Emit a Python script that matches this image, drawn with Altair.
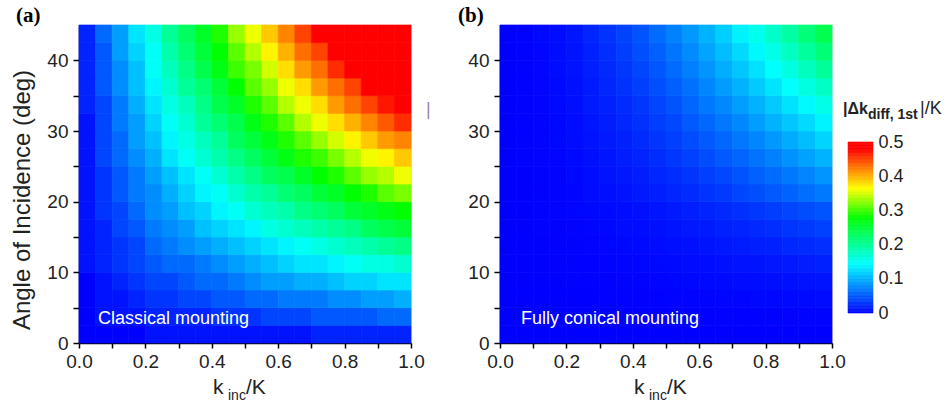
import altair as alt
import pandas as pd

# ---------------- data ----------------
K_INC = [0.025, 0.075, 0.125, 0.175, 0.225, 0.275, 0.325, 0.375, 0.425, 0.475,
         0.525, 0.575, 0.625, 0.675, 0.725, 0.775, 0.825, 0.875, 0.925, 0.975]
ANGLE = [1.25, 3.75, 6.25, 8.75, 11.25, 13.75, 16.25, 18.75, 21.25,
         23.75, 26.25, 28.75, 31.25, 33.75, 36.25, 38.75, 41.25, 43.75]

# |dk_diff,1st|/K, classical mounting (rows = angles bottom->top, cols = k_inc/K)
CLASSICAL = [
    [0.00,0.00,0.00,0.00,0.01,0.01,0.01,0.01,0.01,0.01,0.01,0.01,0.01,0.01,0.02,0.02,0.02,0.02,0.02,0.02],
    [0.00,0.01,0.01,0.01,0.02,0.02,0.02,0.02,0.03,0.03,0.03,0.04,0.04,0.04,0.05,0.05,0.05,0.05,0.06,0.06],
    [0.00,0.01,0.01,0.02,0.03,0.03,0.04,0.04,0.05,0.05,0.06,0.06,0.07,0.07,0.07,0.08,0.08,0.09,0.09,0.10],
    [0.00,0.01,0.02,0.03,0.04,0.04,0.05,0.06,0.06,0.07,0.08,0.09,0.09,0.10,0.10,0.11,0.12,0.12,0.13,0.13],
    [0.01,0.02,0.03,0.04,0.05,0.06,0.06,0.07,0.08,0.09,0.10,0.11,0.12,0.13,0.13,0.14,0.15,0.16,0.16,0.17],
    [0.01,0.02,0.03,0.04,0.06,0.07,0.08,0.09,0.10,0.11,0.12,0.13,0.14,0.15,0.16,0.17,0.18,0.19,0.20,0.21],
    [0.01,0.02,0.04,0.05,0.07,0.08,0.09,0.11,0.12,0.13,0.14,0.16,0.17,0.18,0.19,0.20,0.21,0.23,0.24,0.25],
    [0.01,0.03,0.04,0.06,0.08,0.09,0.11,0.12,0.14,0.15,0.17,0.18,0.19,0.21,0.22,0.23,0.25,0.26,0.27,0.28],
    [0.01,0.03,0.05,0.07,0.08,0.10,0.12,0.14,0.15,0.17,0.19,0.20,0.22,0.23,0.25,0.26,0.28,0.29,0.31,0.32],
    [0.01,0.03,0.05,0.07,0.09,0.11,0.13,0.15,0.17,0.19,0.21,0.23,0.24,0.26,0.28,0.29,0.31,0.33,0.34,0.36],
    [0.01,0.04,0.06,0.08,0.10,0.13,0.15,0.17,0.19,0.21,0.23,0.25,0.27,0.29,0.30,0.32,0.34,0.36,0.37,0.39],
    [0.01,0.04,0.06,0.09,0.11,0.14,0.16,0.18,0.20,0.23,0.25,0.27,0.29,0.31,0.33,0.35,0.37,0.39,0.41,0.42],
    [0.01,0.04,0.07,0.09,0.12,0.15,0.17,0.20,0.22,0.24,0.27,0.29,0.31,0.34,0.36,0.38,0.40,0.42,0.44,0.46],
    [0.02,0.04,0.07,0.10,0.13,0.16,0.18,0.21,0.24,0.26,0.29,0.31,0.34,0.36,0.38,0.41,0.43,0.45,0.47,0.49],
    [0.02,0.05,0.08,0.11,0.14,0.17,0.20,0.22,0.25,0.28,0.31,0.33,0.36,0.38,0.41,0.43,0.45,0.48,0.50,0.52],
    [0.02,0.05,0.08,0.11,0.15,0.18,0.21,0.24,0.27,0.30,0.32,0.35,0.38,0.41,0.43,0.46,0.48,0.51,0.53,0.55],
    [0.02,0.05,0.09,0.12,0.15,0.19,0.22,0.25,0.28,0.31,0.34,0.37,0.40,0.43,0.45,0.48,0.51,0.53,0.56,0.58],
    [0.02,0.06,0.09,0.13,0.16,0.20,0.23,0.26,0.29,0.33,0.36,0.39,0.42,0.45,0.48,0.50,0.53,0.56,0.58,0.61],
]

# |dk_diff,1st|/K, fully conical mounting
CONICAL = [
    [0.000,0.000,0.000,0.000,0.000,0.000,0.000,0.000,0.000,0.000,0.000,0.000,0.000,0.000,0.000,0.000,0.000,0.000,0.000,0.000],
    [0.000,0.000,0.000,0.000,0.000,0.000,0.000,0.000,0.000,0.000,0.001,0.001,0.001,0.001,0.001,0.001,0.001,0.002,0.002,0.002],
    [0.000,0.000,0.000,0.000,0.000,0.000,0.001,0.001,0.001,0.001,0.002,0.002,0.002,0.003,0.003,0.004,0.004,0.005,0.005,0.006],
    [0.000,0.000,0.000,0.000,0.001,0.001,0.001,0.002,0.002,0.003,0.003,0.004,0.005,0.005,0.006,0.007,0.008,0.009,0.010,0.011],
    [0.000,0.000,0.000,0.001,0.001,0.001,0.002,0.003,0.003,0.004,0.005,0.006,0.007,0.009,0.010,0.011,0.013,0.015,0.016,0.018],
    [0.000,0.000,0.000,0.001,0.001,0.002,0.003,0.004,0.005,0.006,0.008,0.009,0.011,0.013,0.015,0.017,0.019,0.022,0.024,0.027],
    [0.000,0.000,0.001,0.001,0.002,0.003,0.004,0.006,0.007,0.009,0.011,0.013,0.015,0.018,0.020,0.023,0.026,0.030,0.033,0.037],
    [0.000,0.000,0.001,0.002,0.003,0.004,0.005,0.007,0.009,0.012,0.014,0.017,0.020,0.023,0.027,0.031,0.035,0.039,0.043,0.048],
    [0.000,0.000,0.001,0.002,0.003,0.006,0.008,0.010,0.014,0.017,0.021,0.024,0.029,0.033,0.039,0.045,0.051,0.056,0.063,0.069],
    [0.000,0.000,0.001,0.002,0.004,0.007,0.010,0.013,0.016,0.021,0.025,0.030,0.036,0.041,0.048,0.055,0.062,0.069,0.077,0.085],
    [0.000,0.001,0.002,0.003,0.005,0.008,0.012,0.016,0.020,0.025,0.031,0.037,0.043,0.051,0.058,0.066,0.074,0.083,0.092,0.102],
    [0.000,0.001,0.002,0.004,0.006,0.010,0.014,0.018,0.024,0.030,0.036,0.044,0.051,0.059,0.068,0.077,0.087,0.098,0.108,0.121],
    [0.000,0.001,0.002,0.004,0.007,0.012,0.016,0.022,0.028,0.035,0.041,0.051,0.059,0.069,0.078,0.090,0.101,0.113,0.125,0.139],
    [0.000,0.001,0.002,0.005,0.008,0.014,0.018,0.024,0.031,0.039,0.048,0.058,0.068,0.078,0.090,0.102,0.115,0.129,0.143,0.158],
    [0.000,0.001,0.003,0.005,0.009,0.015,0.021,0.028,0.036,0.045,0.054,0.064,0.076,0.089,0.101,0.115,0.130,0.145,0.161,0.177],
    [0.000,0.001,0.003,0.006,0.010,0.017,0.023,0.031,0.040,0.049,0.061,0.072,0.085,0.099,0.113,0.128,0.145,0.161,0.179,0.198],
    [0.000,0.001,0.003,0.007,0.011,0.018,0.026,0.035,0.045,0.055,0.067,0.079,0.094,0.108,0.124,0.141,0.159,0.178,0.197,0.217],
    [0.000,0.001,0.004,0.007,0.012,0.021,0.029,0.038,0.048,0.061,0.074,0.087,0.102,0.118,0.137,0.155,0.174,0.194,0.215,0.237],
]

X_TICKS = [0.0, 0.1, 0.2, 0.3, 0.4, 0.5, 0.6, 0.7, 0.8, 0.9, 1.0]
Y_TICKS = [0, 5, 10, 15, 20, 25, 30, 35, 40]
CBAR_TICKS = [0.0, 0.1, 0.2, 0.3, 0.4, 0.5]
COLOR_STOPS = [0.0, 0.145, 0.28, 0.365, 0.48, 0.5]
COLOR_RANGE = ["#0000ff", "#00ffff", "#00ff00", "#ffff00", "#ff0000", "#ff0000"]

# ---------------- tables ----------------
dx = (K_INC[1] - K_INC[0]) / 2
dy = (ANGLE[1] - ANGLE[0]) / 2


def grid_table(grid):
    rows = []
    for i, a in enumerate(ANGLE):
        for j, k in enumerate(K_INC):
            rows.append({"x0": k - dx, "x1": k + dx, "y0": a - dy, "y1": a + dy, "v": grid[i][j]})
    return pd.DataFrame(rows)


dfA = grid_table(CLASSICAL)
dfB = grid_table(CONICAL)

n_lv = 120
cb_rows = []
for i in range(n_lv):
    lo = CBAR_TICKS[-1] * i / n_lv
    hi = CBAR_TICKS[-1] * (i + 1) / n_lv
    cb_rows.append({"lo": lo, "hi": hi, "mid": (lo + hi) / 2})
dfCB = pd.DataFrame(cb_rows)

ONE = pd.DataFrame({"d": [0]})

FONT = "Liberation Sans"
cscale = alt.Scale(domain=COLOR_STOPS, range=COLOR_RANGE, clamp=True, interpolate="rgb")

PW, PH = 332, 318

xaxis = alt.Axis(
    values=X_TICKS,
    labelExpr="round(datum.value*10) % 2 == 0 ? format(datum.value, '.1f') : ''",
    title=None, grid=False, tickSize=5, tickWidth=1.5, tickColor="black",
    domainColor="black", domainWidth=1.5, labelFontSize=19, labelFont=FONT,
    labelColor="#222", labelPadding=4, labelFlush=False, labelOverlap=False,
)
yaxis = alt.Axis(
    orient="left",
    values=Y_TICKS,
    labelExpr="datum.value % 10 === 0 ? format(datum.value, 'd') : ''",
    title=None, grid=False, tickSize=6, tickWidth=1.5, tickColor="black",
    domainColor="black", domainWidth=1.5, labelFontSize=19, labelFont=FONT,
    labelColor="#222", labelPadding=5, labelFlush=False, labelOverlap=False,
)


def heat(df):
    return alt.Chart(df).mark_rect(strokeWidth=0.7).encode(
        x=alt.X("x0:Q", scale=alt.Scale(domain=[0, 1], nice=False, zero=False), axis=xaxis),
        x2="x1:Q",
        y=alt.Y("y0:Q", scale=alt.Scale(domain=[0, 45], nice=False, zero=False), axis=yaxis),
        y2="y1:Q",
        color=alt.Color("v:Q", scale=cscale, legend=None),
        stroke=alt.Stroke("v:Q", scale=cscale, legend=None),
    )


def txt(s, x, y, size, color="#222", weight="normal", font=FONT, align="left",
        baseline="middle", angle=None):
    mk = dict(text=s, fontSize=size, color=color, fontWeight=weight, font=font,
              align=align, baseline=baseline)
    if angle is not None:
        mk["angle"] = angle
    return alt.Chart(ONE).mark_text(**mk).encode(x=alt.value(x), y=alt.value(y))


def xtitle():
    return [
        txt("k", 134, 369, 21, baseline="alphabetic"),
        txt("inc", 149, 375, 14, baseline="alphabetic"),
        txt("/K", 167, 369, 21, baseline="alphabetic"),
    ]


panelA = alt.layer(
    heat(dfA),
    txt("Classical mounting", 19, 294, 18, color="white"),
    txt("(a)", -63, -9, 21, color="black", weight="bold", font="Liberation Serif"),
    txt("Angle of Incidence (deg)", -56, 175, 24, align="center", angle=270),
    txt("|", 347, 85, 18, color="#9a86b0"),
    *xtitle(),
).properties(width=PW, height=PH)

cbaxis = alt.Axis(
    orient="right", values=CBAR_TICKS,
    labelExpr="datum.value === 0 ? '0' : format(datum.value, '.1f')",
    offset=41, domain=False, ticks=False, tickSize=0, labelPadding=5,
    labelFontSize=18, labelFont=FONT, labelColor="#222", grid=False, title=None,
    labelFlush=False, labelOverlap=False,
)

cbar = alt.Chart(dfCB).mark_rect(strokeWidth=0.6).encode(
    x=alt.value(348), x2=alt.value(373),
    y=alt.Y("lo:Q", scale=alt.Scale(domain=[-0.0877, 0.8421], nice=False, zero=False), axis=cbaxis),
    y2="hi:Q",
    color=alt.Color("mid:Q", scale=cscale, legend=None),
    stroke=alt.Stroke("mid:Q", scale=cscale, legend=None),
)

panelB = alt.layer(
    heat(dfB),
    txt("Fully conical mounting", 21, 294, 18, color="white"),
    txt("(b)", -42, -9, 21, color="black", weight="bold", font="Liberation Serif"),
    *xtitle(),
    cbar,
    txt("|\u0394k", 343, 89, 16, color="#222", weight="bold", baseline="alphabetic"),
    txt("diff, 1st", 368, 94, 14, color="#222", weight="bold", baseline="alphabetic"),
    txt("|/K", 420, 89, 18, color="#222", baseline="alphabetic"),
).resolve_scale(y="independent").properties(width=PW, height=PH)

chart = alt.hconcat(panelA, panelB, spacing=89, bounds="flush").properties(
    padding={"left": 10, "top": 4, "right": 5, "bottom": 0},
    background="white",
).configure_view(stroke="black", strokeWidth=1.5).configure(font=FONT)

chart.save("out.html", embed_options={"renderer": "svg", "actions": False})
